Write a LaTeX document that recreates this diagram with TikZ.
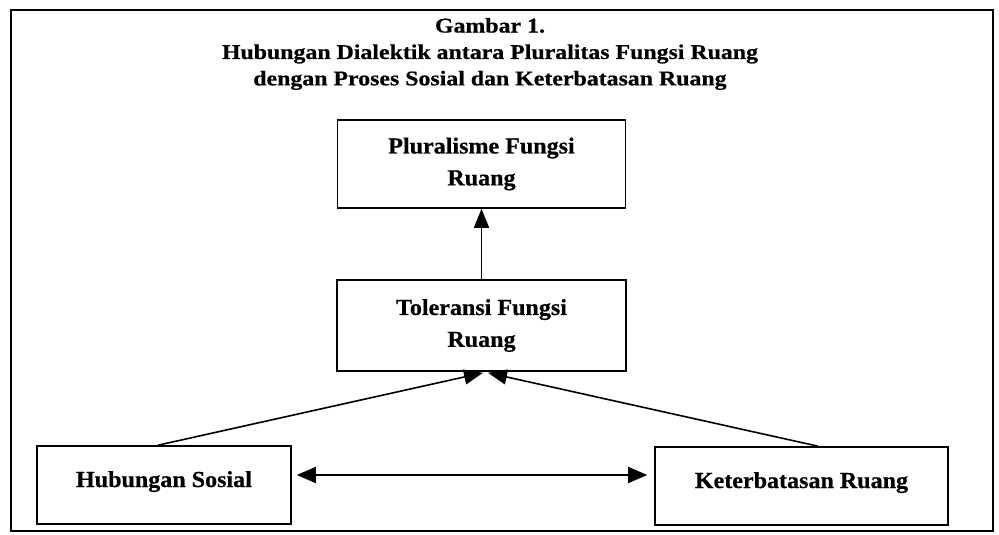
\documentclass[tikz,border=0pt]{standalone}
\usepackage{fontspec}
\setmainfont{Liberation Serif}
\newfontfamily\titlefont[FakeStretch=1.14,FakeBold=0.6]{Liberation Serif}
\newfontfamily\boxfont[FakeStretch=1.05,FakeBold=0.6]{Liberation Serif}
\usetikzlibrary{arrows.meta}
\begin{document}
\begin{tikzpicture}[x=1bp,y=-1bp,
  box/.style={draw,line width=1.6bp,inner sep=0pt,align=center,
    font=\boxfont\bfseries\fontsize{23}{32}\selectfont},
  onebox/.style={box,text height=15bp,text depth=11bp},
  conn/.style={line width=1.6bp},
  tip/.style={-{Triangle[length=19bp,width=15bp]}},
]
\useasboundingbox (0,0) rectangle (999,535);
\draw[line width=2bp] (11,10) rectangle (993,531);
\node[font=\titlefont\bfseries\fontsize{21}{26.5}\selectfont,align=center] (title) at (490,54)
  {Gambar 1.\\Hubungan Dialektik antara Pluralitas Fungsi Ruang\\dengan Proses Sosial dan Keterbatasan Ruang};
\node[box,minimum width=288bp,minimum height=88bp] (plu) at (481.5,164) {Pluralisme Fungsi\\Ruang};
\node[box,minimum width=289bp,minimum height=91bp] (tol) at (481.5,325.5) {Toleransi Fungsi\\Ruang};
\node[onebox,minimum width=254bp,minimum height=78bp] (hub) at (164,485) {Hubungan Sosial};
\node[onebox,minimum width=293bp,minimum height=78bp] (ker) at (801.5,486) {Keterbatasan Ruang};
\draw[conn,tip] (tol.north) -- (plu.south);
\draw[conn,tip] ([shift={(-6,0)}]hub.north) -- ([shift={(1.5,1)}]tol.south);
\draw[conn,tip] ([shift={(16.5,0)}]ker.north) -- ([shift={(6.5,1)}]tol.south);
\draw[conn,{Triangle[length=19bp,width=16bp]}-{Triangle[length=19bp,width=16bp]}]
  ([shift={(5,-10)}]hub.east) -- ([shift={(-7,-11)}]ker.west);
\end{tikzpicture}
\end{document}
